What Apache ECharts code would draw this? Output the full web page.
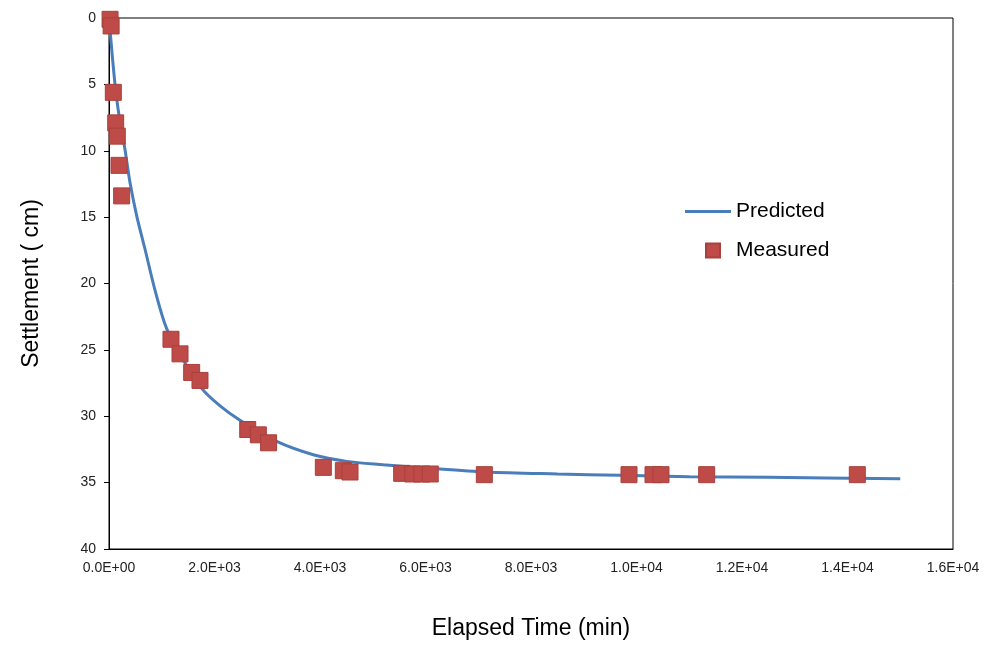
<!DOCTYPE html>
<html>
<head>
<meta charset="utf-8">
<script src="https://cdn.jsdelivr.net/npm/echarts@6/dist/echarts.min.js"></script>
<style>
  html, body { margin: 0; padding: 0; background: #fff; }
  #chart { width: 987px; height: 645px; }
</style>
</head>
<body>
<div id="chart"></div>
<script>
var dom = document.getElementById("chart");
var myChart = echarts.init(dom);

// measured settlement (time in min, settlement in cm)
var measuredTime = [20, 40, 82, 127, 157, 190, 240, 1175, 1346, 1567, 1725, 2630, 2831, 3025,
    4063, 4442, 4569, 5548, 5760, 5930, 6090, 7115, 9858, 10313, 10464, 11330, 14186];
var measuredSettle = [0.1, 0.6, 5.6, 7.9, 8.9, 11.1, 13.4, 24.2, 25.3, 26.7, 27.3, 31.0, 31.4, 32.0,
    33.85, 34.1, 34.2, 34.3, 34.35, 34.35, 34.35, 34.4, 34.4, 34.4, 34.4, 34.4, 34.4];

// predicted curve
var predTime = [0, 114, 200, 303, 398, 525, 682, 872, 1093, 1400, 1757, 2100, 2483, 3179,
    3873, 4506, 5200, 6023, 7160, 8500, 9687, 11000, 12500, 15000];
var predSettle = [0, 5.0, 7.6, 9.9, 12.4, 14.9, 17.4, 20.5, 23.4, 25.7, 27.9, 29.2, 30.3, 31.9,
    32.9, 33.4, 33.65, 33.9, 34.2, 34.35, 34.45, 34.55, 34.6, 34.7];

var xTicks = { min: 0, max: 16000, interval: 2000 };
var yTicks = { min: 0, max: 40, interval: 5 };

function sci(v) {
    if (v === 0) return '0.0E+00';
    var e = Math.floor(Math.log10(v));
    var m = v / Math.pow(10, e);
    return m.toFixed(1) + 'E+' + (e < 10 ? '0' : '') + e;
}

function pairs(a, b) {
    return a.map(function (v, i) { return [v, b[i]]; });
}

var font = 'Liberation Sans, Arial, sans-serif';
var legendText = { fontSize: 21, color: '#000', fontFamily: font };

var option = {
    animation: false,
    textStyle: { fontFamily: font },
    grid: {
        left: 109, right: 34, top: 18, bottom: 95,
        show: true, borderColor: '#000', borderWidth: 1
    },
    legend: [{
        left: 680, top: 196,
        icon: 'rect',
        itemWidth: 46, itemHeight: 3,
        textStyle: legendText,
        data: ['Predicted']
    }, {
        left: 700, top: 235,
        icon: 'rect',
        itemWidth: 14, itemHeight: 14,
        textStyle: Object.assign({ padding: [0, 0, 0, 11] }, legendText),
        data: ['Measured']
    }],
    xAxis: {
        type: 'value',
        min: xTicks.min, max: xTicks.max, interval: xTicks.interval,
        name: 'Elapsed Time (min)',
        nameLocation: 'middle', nameGap: 68,
        nameTextStyle: { fontSize: 23, color: '#000' },
        axisLine: { onZero: false, lineStyle: { color: '#000' } },
        axisTick: { show: false },
        axisLabel: { fontSize: 14, color: '#222', margin: 12, formatter: sci },
        splitLine: { show: false }
    },
    yAxis: {
        type: 'value', inverse: true,
        min: yTicks.min, max: yTicks.max, interval: yTicks.interval,
        name: 'Settlement ( cm)',
        nameLocation: 'middle', nameGap: 66,
        nameTextStyle: { fontSize: 23, color: '#000' },
        axisLine: { show: true, onZero: false, lineStyle: { color: '#000' } },
        axisTick: { show: true, length: 5, lineStyle: { color: '#000' } },
        axisLabel: { fontSize: 14, color: '#222', margin: 13 },
        splitLine: { show: false }
    },
    series: [{
        name: 'Predicted',
        type: 'line',
        smooth: 0.3,
        symbol: 'none',
        lineStyle: { color: '#4A7EBB', width: 3 },
        itemStyle: { color: '#4A7EBB' },
        z: 2,
        data: pairs(predTime, predSettle)
    }, {
        name: 'Measured',
        type: 'scatter',
        symbol: 'rect',
        symbolSize: 16,
        itemStyle: { color: '#BE4B48', borderColor: '#A8403D', borderWidth: 1, opacity: 1 },
        z: 3,
        data: pairs(measuredTime, measuredSettle)
    }]
};

if (option && typeof option === 'object') {
    myChart.setOption(option);
}
</script>
</body>
</html>
